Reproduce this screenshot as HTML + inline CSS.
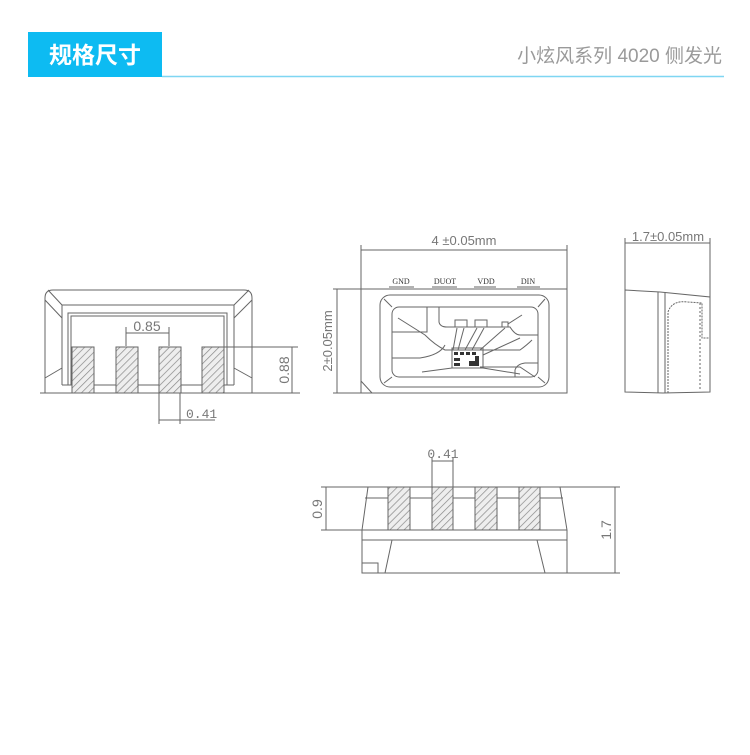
<!DOCTYPE html>
<html><head><meta charset="utf-8"><style>
body{margin:0;background:#fff;width:750px;height:750px;overflow:hidden}
</style></head><body>
<svg width="750" height="750" xmlns="http://www.w3.org/2000/svg" font-family="Liberation Sans, sans-serif">
<defs>
<pattern id="h" width="5" height="5" patternUnits="userSpaceOnUse" patternTransform="rotate(45)">
<rect width="5" height="5" fill="#eee"/><line x1="0" y1="0" x2="0" y2="5" stroke="#888" stroke-width="1.4"/>
</pattern>
</defs>
<!-- header -->
<rect x="28" y="32" width="134" height="45" fill="#0dbbf2"/>
<text x="95" y="63" text-anchor="middle" fill="#fff" font-size="23" font-weight="bold" font-family="Noto Sans CJK SC, sans-serif">规格尺寸</text>
<line x1="162" y1="76.5" x2="724" y2="76.5" stroke="#7fd6f2" stroke-width="1.5"/>
<text x="722" y="62" text-anchor="end" fill="#9a9a9a" font-size="19" font-family="Liberation Sans, Noto Sans CJK SC, sans-serif">小炫风系列 4020  侧发光</text>

<g stroke="#666" stroke-width="1" fill="none">
<!-- left view -->
<path d="M45,393 L45,298 Q45,290 53,290 L244,290 Q252,290 252,298 L252,393"/>
<path d="M62,385 L62,305 L234,305 L234,385"/>
<path d="M68,385 L68,313 L227,313 L227,385"/>
<path d="M71,385 L71,316 L224,316 L224,347"/>
<line x1="45" y1="300" x2="62" y2="318"/><line x1="252" y1="300" x2="234" y2="318"/>
<line x1="48" y1="290" x2="62" y2="305"/><line x1="249" y1="290" x2="234" y2="305"/>
<line x1="45" y1="378" x2="62" y2="368"/><line x1="252" y1="378" x2="234" y2="368"/>
<line x1="40" y1="393" x2="300" y2="393"/>
<line x1="62" y1="385" x2="234" y2="385"/>
<line x1="126" y1="327" x2="126" y2="346"/><line x1="169" y1="327" x2="169" y2="346"/>
<line x1="126" y1="333" x2="169" y2="333"/>
<line x1="224" y1="347" x2="298" y2="347"/>
<line x1="292" y1="347" x2="292" y2="393"/>
<line x1="159" y1="393" x2="159" y2="424"/><line x1="180" y1="393" x2="180" y2="424"/>
<line x1="159" y1="420" x2="180" y2="420"/><line x1="180" y1="420" x2="215" y2="420"/>
</g>
<g fill="url(#h)" stroke="#666">
<rect x="72" y="347" width="22" height="46"/><rect x="116" y="347" width="22" height="46"/>
<rect x="159" y="347" width="22" height="46"/><rect x="202" y="347" width="22" height="46"/>
</g>
<g fill="#777" font-size="14">
<text x="147" y="331" text-anchor="middle">0.85</text>
<text x="186" y="418" font-family="Liberation Mono, monospace" font-size="13">0.41</text>
<text transform="translate(289,370) rotate(-90)" text-anchor="middle" font-size="14">0.88</text>
</g>

<!-- front view -->
<g stroke="#666" stroke-width="1" fill="none">
<rect x="361" y="289" width="206" height="104"/>
<line x1="361" y1="245" x2="361" y2="289"/><line x1="567" y1="245" x2="567" y2="289"/>
<line x1="361" y1="250" x2="567" y2="250"/>
<line x1="333" y1="289" x2="361" y2="289"/><line x1="333" y1="393" x2="361" y2="393"/>
<line x1="337" y1="289" x2="337" y2="393"/>
<rect x="380" y="295" width="169" height="92" rx="10"/>
<rect x="392" y="307" width="146" height="70" rx="7"/>
<line x1="384" y1="299" x2="392" y2="307"/><line x1="545" y1="299" x2="538" y2="307"/>
<line x1="384" y1="383" x2="392" y2="377"/><line x1="545" y1="383" x2="538" y2="377"/>
<line x1="361" y1="381" x2="372" y2="393"/>
<path d="M427,307 L427,332 L392,332"/>
<path d="M439,307 L439,322 Q440,327 447,327 L510,327 Q515,335 520,335 L538,335"/>
<path d="M398,318 L425,335 Q435,345 445,350 L520,350 Q527,345 532,340"/>
<path d="M392,358 L420,358 Q440,355 445,345"/>
<path d="M480,367 L520,367 L535,377"/>
<path d="M515,377 L515,370 Q517,364 525,363 L538,363"/>
<line x1="422" y1="372" x2="452" y2="368"/>
<line x1="483" y1="368" x2="520" y2="374"/>
<line x1="483" y1="355" x2="520" y2="338"/>
<line x1="457" y1="328" x2="453" y2="350"/><line x1="464" y1="328" x2="458" y2="350"/>
<line x1="477" y1="328" x2="465" y2="350"/><line x1="484" y1="328" x2="472" y2="350"/>
<line x1="505" y1="328" x2="480" y2="350"/><line x1="508" y1="324" x2="522" y2="315"/>
<rect x="455" y="320" width="12" height="7"/><rect x="475" y="320" width="12" height="7"/>
<rect x="502" y="322" width="6" height="5"/>
<rect x="452" y="348" width="31" height="20"/>
<line x1="389" y1="287" x2="414" y2="287"/><line x1="432" y1="287" x2="457" y2="287"/>
<line x1="474" y1="287" x2="496" y2="287"/><line x1="517" y1="287" x2="540" y2="287"/>
</g>
<g fill="#333"><rect x="454" y="352" width="4" height="3"/><rect x="460" y="352" width="4" height="3"/><rect x="466" y="352" width="4" height="3"/><rect x="472" y="352" width="4" height="3"/>
<rect x="454" y="358" width="6" height="3"/><rect x="454" y="363" width="6" height="3"/><rect x="469" y="361" width="6" height="5"/><rect x="475" y="356" width="4" height="10"/></g>
<g fill="#777">
<text x="464" y="245" text-anchor="middle" font-size="13" font-family="Liberation Sans, sans-serif">4 ±0.05mm</text>
<text transform="translate(332,341) rotate(-90)" text-anchor="middle" font-size="13">2±0.05mm</text>
<g font-family="Liberation Serif, serif" font-size="8" fill="#333" text-anchor="middle">
<text x="401" y="284">GND</text><text x="445" y="284">DUOT</text><text x="486" y="284">VDD</text><text x="528" y="284">DIN</text></g>
</g>

<!-- side view -->
<g stroke="#666" stroke-width="1" fill="none">
<path d="M625,290 L660,292 L710,297 L710,392 L663,393 L625,392 Z"/>
<line x1="658" y1="292" x2="658" y2="393"/><line x1="665" y1="293" x2="665" y2="393"/>
<path d="M668,393 L668,312 Q672,300 688,302 L702,303 L702,338 L710,338" stroke-dasharray="2,1"/>
<line x1="700" y1="303" x2="700" y2="390" stroke-dasharray="2,2"/>
<line x1="625" y1="238" x2="625" y2="290"/><line x1="710" y1="238" x2="710" y2="297"/>
<line x1="625" y1="243" x2="710" y2="243"/>
</g>
<text x="668" y="241" text-anchor="middle" fill="#777" font-size="13">1.7±0.05mm</text>

<!-- bottom view -->
<g stroke="#666" stroke-width="1" fill="none">
<line x1="321" y1="487" x2="620" y2="487"/>
<line x1="321" y1="530" x2="362" y2="530"/>
<line x1="567" y1="573" x2="620" y2="573"/>
<path d="M368,487 L362,530 L362,573 L567,573 L567,530 L560,487"/>
<line x1="365" y1="498" x2="563" y2="498"/>
<line x1="362" y1="530" x2="567" y2="530"/><line x1="362" y1="540" x2="567" y2="540"/>
<line x1="392" y1="540" x2="385" y2="573"/><line x1="537" y1="540" x2="545" y2="573"/>
<path d="M362,563 L378,563 L378,573"/>
<line x1="326" y1="487" x2="326" y2="530"/>
<line x1="615" y1="487" x2="615" y2="573"/>
<line x1="432" y1="457" x2="432" y2="487"/><line x1="453" y1="457" x2="453" y2="487"/>
<line x1="432" y1="461" x2="453" y2="461"/>
</g>
<g fill="url(#h)" stroke="#666">
<rect x="388" y="487" width="22" height="43"/><rect x="432" y="487" width="21" height="43"/>
<rect x="475" y="487" width="22" height="43"/><rect x="519" y="487" width="21" height="43"/>
</g>
<g fill="#777" font-size="14">
<text x="443" y="458" text-anchor="middle" font-family="Liberation Mono, monospace" font-size="13">0.41</text>
<text transform="translate(322,509) rotate(-90)" text-anchor="middle">0.9</text>
<text transform="translate(611,530) rotate(-90)" text-anchor="middle">1.7</text>
</g>
</svg>
</body></html>
